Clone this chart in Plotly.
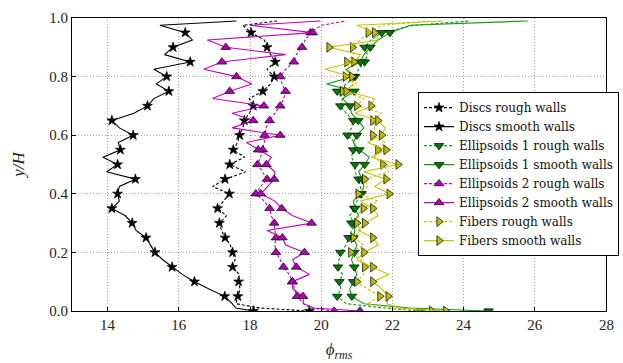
import plotly.graph_objects as go

# Common y/H positions of the profiles
Y = [0.0, 0.01, 0.025, 0.05, 0.075, 0.1, 0.125, 0.15, 0.175, 0.2, 0.225, 0.25, 0.275, 0.3,
     0.325, 0.35, 0.375, 0.4, 0.425, 0.45, 0.475, 0.5, 0.525, 0.55, 0.575, 0.6, 0.625, 0.65,
     0.675, 0.7, 0.725, 0.75, 0.775, 0.8, 0.825, 0.85, 0.875, 0.9, 0.925, 0.95, 0.975, 0.99]

discs_rough = [19.67, 18.3, 17.6, 17.66, 17.72, 17.68, 17.7, 17.51, 17.58, 17.51, 17.45, 17.3, 17.2, 17.14,
               17.34, 17.09, 17.25, 17.42, 16.95, 17.3, 17.88, 17.43, 17.85, 17.53, 17.65, 17.71, 17.8, 17.84,
               17.98, 18.09, 17.98, 18.36, 18.58, 18.68, 18.48, 18.71, 18.58, 18.48, 18.4, 18.03, 17.8, 18.76]
discs_smooth = [18.1, 17.6, 17.5, 17.29, 16.85, 16.44, 16.1, 15.81, 15.55, 15.33, 15.2, 15.08, 14.8, 14.69,
                14.5, 14.12, 14.33, 14.28, 14.33, 14.78, 13.97, 14.28, 13.87, 14.36, 14.3, 14.72, 14.33, 14.12,
                14.74, 15.12, 15.3, 15.72, 15.37, 15.66, 15.3, 16.32, 15.6, 15.84, 16.38, 16.18, 15.47, 17.62]
ell1_rough = [22.8, 21.8, 20.7, 20.45, 20.55, 20.51, 20.6, 20.47, 20.5, 20.54, 20.7, 20.77, 20.85, 20.93,
              20.8, 20.93, 21.0, 21.13, 21.1, 21.05, 20.95, 20.95, 20.85, 20.9, 20.95, 20.74, 20.85, 20.9,
              20.7, 20.54, 20.6, 20.45, 20.7, 20.95, 21.05, 21.22, 21.3, 21.22, 21.4, 21.7, 22.6, 24.2]
ell1_smooth = [24.7, 22.5, 21.2, 20.86, 20.8, 20.9, 21.0, 20.93, 20.85, 20.93, 21.0, 20.9, 20.95, 20.85,
               21.05, 20.95, 20.9, 21.1, 21.2, 21.15, 21.05, 21.22, 21.35, 21.07, 20.9, 21.0, 21.2, 21.04,
               20.85, 20.81, 20.6, 20.93, 20.15, 20.9, 20.7, 21.1, 21.2, 21.38, 21.6, 21.93, 22.5, 25.8]
ell2_rough = [20.36, 19.7, 19.5, 19.32, 19.25, 19.19, 19.1, 18.94, 18.85, 18.73, 18.7, 18.73, 18.7, 18.68,
              18.6, 18.55, 18.4, 18.16, 18.3, 18.48, 18.35, 18.21, 18.3, 18.36, 18.4, 18.41, 18.45, 18.55,
              18.7, 18.85, 18.95, 19.0, 18.9, 18.85, 19.0, 19.23, 19.3, 19.46, 19.55, 19.7, 20.0, 20.7]
ell2_smooth = [21.09, 19.8, 19.5, 19.49, 19.2, 19.19, 19.67, 19.3, 19.2, 19.53, 19.0, 18.91, 18.48, 19.73,
               19.2, 18.89, 18.7, 18.3, 18.5, 18.68, 18.7, 18.46, 18.6, 18.23, 17.9, 18.85, 17.5, 18.09,
               17.5, 18.39, 16.95, 17.43, 18.05, 17.62, 16.7, 17.21, 19.0, 17.32, 16.8, 19.76, 18.0, 19.97]
fib_rough = [23.1, 22.0, 21.3, 21.65, 21.3, 21.0, 21.2, 21.22, 21.1, 20.83, 21.2, 20.9, 21.1, 21.0,
             21.0, 21.18, 21.6, 21.04, 21.3, 21.22, 21.9, 21.73, 21.5, 21.59, 21.8, 21.45, 21.5, 21.45,
             21.7, 21.0, 21.2, 20.6, 21.0, 20.68, 20.8, 20.72, 20.9, 20.88, 21.1, 21.32, 21.7, 23.0]
fib_smooth = [23.5, 22.2, 21.85, 21.88, 21.7, 21.45, 21.9, 21.45, 21.0, 21.2, 21.6, 21.45, 21.05, 21.22,
              21.6, 21.45, 21.1, 21.91, 21.5, 21.82, 21.2, 22.16, 21.4, 21.82, 21.3, 21.7, 21.8, 21.59,
              20.95, 21.4, 21.5, 20.7, 20.9, 20.86, 20.1, 20.92, 21.1, 20.22, 21.6, 21.5, 21.0, 23.4]

X_TICKS = [14, 16, 18, 20, 22, 24, 26]
X_EDGE_TICK = 28
Y_TICKS = [0, 0.2, 0.4, 0.6, 0.8, 1.0]

# marker every 0.05 in y/H
MARK = [i for i, y in enumerate(Y) if abs(round(y / 0.05) * 0.05 - y) < 1e-9]

series = [
    ("Discs rough walls", discs_rough, "black", "black", "star", "3px,2px"),
    ("Discs smooth walls", discs_smooth, "black", "black", "star", "solid"),
    ("Ellipsoids 1 rough walls", ell1_rough, "#119911", "#007a00", "triangle-down", "3px,2px"),
    ("Ellipsoids 1 smooth walls", ell1_smooth, "#119911", "#007a00", "triangle-down", "solid"),
    ("Ellipsoids 2 rough walls", ell2_rough, "#c000c0", "#b400b4", "triangle-up", "3px,2px"),
    ("Ellipsoids 2 smooth walls", ell2_smooth, "#c000c0", "#b400b4", "triangle-up", "solid"),
    ("Fibers rough walls", fib_rough, "#c4c400", "#bcbc00", "triangle-right", "3px,2px"),
    ("Fibers smooth walls", fib_smooth, "#c4c400", "#bcbc00", "triangle-right", "solid"),
]

fig = go.Figure()
for name, xs, lc, mc, sym, dash in series:
    msize = 7.5 if sym == "star" else 8.5
    fig.add_trace(go.Scatter(x=xs, y=Y, mode="lines", line=dict(color=lc, width=1.1, dash=dash),
                             showlegend=False, legendgroup=name, hoverinfo="skip"))
    fig.add_trace(go.Scatter(x=[xs[i] for i in MARK], y=[Y[i] for i in MARK], mode="markers",
                             marker=dict(symbol=sym, size=msize, color=mc,
                                         line=dict(color="black", width=0.7)),
                             showlegend=False, legendgroup=name))
    fig.add_trace(go.Scatter(x=[None], y=[None], mode="lines+markers", name=name, legendgroup=name,
                             line=dict(color=lc, width=1.1, dash=dash),
                             marker=dict(symbol=sym, size=msize, color=mc,
                                         line=dict(color="black", width=0.7))))

font_family = "Liberation Serif"
axis_common = dict(showline=True, linecolor="black", linewidth=1.2, mirror=True,
                   ticks="inside", ticklen=4, tickcolor="black",
                   showgrid=True, gridcolor="#a0a0a0", griddash="1px,2px", gridwidth=1,
                   zeroline=False,
                   tickfont=dict(family=font_family, size=15, color="#222"))

fig.update_layout(
    width=623, height=363,
    margin=dict(l=72, r=4, t=18, b=52),
    paper_bgcolor="white", plot_bgcolor="white",
    font=dict(family=font_family, color="#222"),
    xaxis=dict(range=[13, 28], tickvals=X_TICKS,
               title=dict(text="<i>ϕ</i><sub><i>rms</i></sub>", font=dict(size=17), standoff=11),
               **axis_common),
    yaxis=dict(range=[0, 1], tickvals=Y_TICKS, tickformat=".1f",
               title=dict(text="<i>y/H</i>", font=dict(size=17), standoff=20),
               **axis_common),
    legend=dict(x=0.648, y=0.747, xanchor="left", yanchor="top",
                bgcolor="white", bordercolor="black", borderwidth=1,
                font=dict(family="DejaVu Serif", size=12, color="#111"),
                tracegroupgap=0, itemwidth=30),
)

# the last x tick label sits on the plot edge and overflows the page; draw it as text at that tick
fig.add_annotation(x=X_EDGE_TICK, y=0, xref="x", yref="paper", text=str(X_EDGE_TICK),
                   showarrow=False, yanchor="top", xanchor="center", yshift=-4,
                   font=dict(family=font_family, size=15, color="#222"))

fig.write_html("out.html")
